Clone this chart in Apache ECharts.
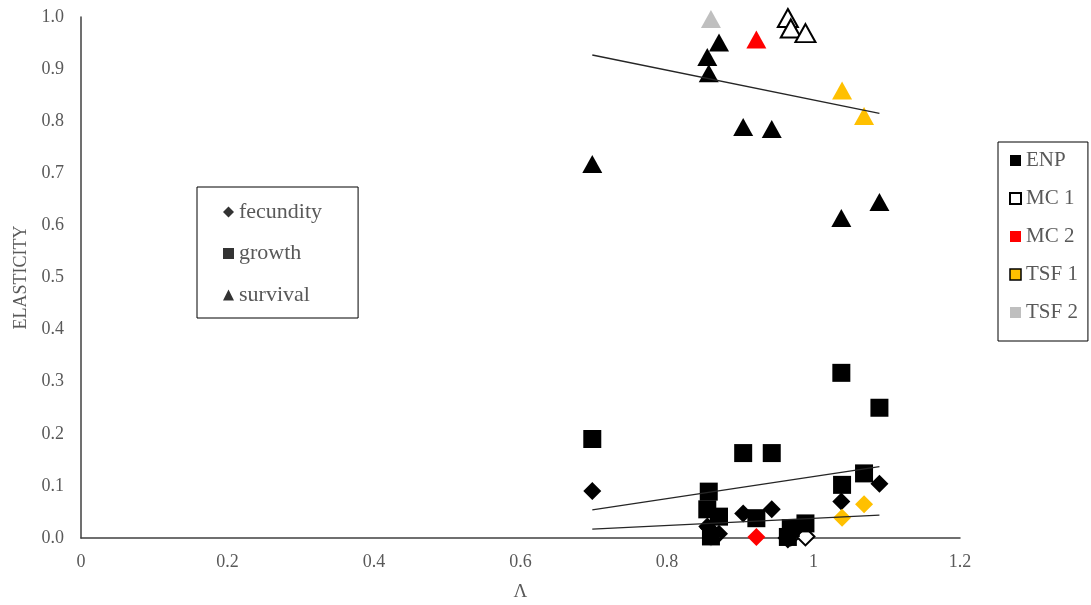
<!DOCTYPE html>
<html>
<head>
<meta charset="utf-8">
<script src="https://cdn.jsdelivr.net/npm/echarts@6/dist/echarts.min.js"></script>
<style>
  html, body { margin: 0; padding: 0; background: #fff; }
  #chart { width: 1091px; height: 605px; }
</style>
</head>
<body>
<div id="chart"></div>
<script>
// Population growth rate (lambda) and elasticities per population
const populations = ['ENP', 'MC 1', 'MC 2', 'TSF 1', 'TSF 2'];
const vitalRates = ['fecundity', 'growth', 'survival'];

const lambdaENP    = [0.698, 0.855, 0.857, 0.871, 0.904, 0.943, 1.038, 1.090];
const survivalENP  = [0.718, 0.923, 0.892, 0.951, 0.789, 0.785, 0.614, 0.645];
const growthENP    = [0.190, 0.055, 0.089, 0.041, 0.163, 0.163, 0.317, 0.250];
const fecundityENP = [0.090, 0.022, 0.019, 0.008, 0.047, 0.055, 0.070, 0.104];

const lambdaMC1    = [0.965, 0.969, 0.989];
const survivalMC1  = [0.998, 0.978, 0.969];
const growthMC1    = [0.002, 0.019, 0.028];
const fecundityMC1 = [0.000, 0.003, 0.003];

const lambdaMC2    = [0.922];
const survivalMC2  = [0.957];
const growthMC2    = [0.038];
const fecundityMC2 = [0.002];

const lambdaTSF1    = [1.039, 1.069];
const survivalTSF1  = [0.859, 0.810];
const growthTSF1    = [0.102, 0.124];
const fecundityTSF1 = [0.039, 0.065];

const lambdaTSF2    = [0.860];
const survivalTSF2  = [0.996];
const growthTSF2    = [0.003];
const fecundityTSF2 = [0.001];

// Linear trend lines over all populations (endpoints at lambda range)
const trendLambda    = [0.698, 1.090];
const trendSurvival  = [0.927, 0.815];
const trendGrowth    = [0.054, 0.137];
const trendFecundity = [0.017, 0.044];

const xTicks = [0, 0.2, 0.4, 0.6, 0.8, 1, 1.2];
const yTicks = [0, 0.1, 0.2, 0.3, 0.4, 0.5, 0.6, 0.7, 0.8, 0.9, 1.0];

const popData = {
  'ENP':   { lambda: lambdaENP,  fecundity: fecundityENP,  growth: growthENP,  survival: survivalENP },
  'MC 1':  { lambda: lambdaMC1,  fecundity: fecundityMC1,  growth: growthMC1,  survival: survivalMC1 },
  'MC 2':  { lambda: lambdaMC2,  fecundity: fecundityMC2,  growth: growthMC2,  survival: survivalMC2 },
  'TSF 1': { lambda: lambdaTSF1, fecundity: fecundityTSF1, growth: growthTSF1, survival: survivalTSF1 },
  'TSF 2': { lambda: lambdaTSF2, fecundity: fecundityTSF2, growth: growthTSF2, survival: survivalTSF2 }
};

// Marker styles
const popStyle = {
  'ENP':   { color: '#000000' },
  'MC 1':  { color: '#ffffff', borderColor: '#000000', borderWidth: 2 },
  'MC 2':  { color: '#ff0000' },
  'TSF 1': { color: '#ffc000' },
  'TSF 2': { color: '#bfbfbf' }
};
const legendPopStyle = {
  'ENP':   { color: '#000000' },
  'MC 1':  { color: '#ffffff', borderColor: '#000000', borderWidth: 2 },
  'MC 2':  { color: '#ff0000' },
  'TSF 1': { color: '#ffc000', borderColor: '#000000', borderWidth: 1.5 },
  'TSF 2': { color: '#bfbfbf' }
};
const rateSymbol = { fecundity: 'diamond', growth: 'rect', survival: 'triangle' };
const rateSize = { fecundity: [18, 18], growth: [18, 18], survival: [20, 18] };

const font = 'Liberation Serif, Times New Roman, serif';
const textGray = '#595959';

const series = [];

// Placeholder series that carry the vital-rate legend entries
vitalRates.forEach(function (r) {
  series.push({
    name: r, type: 'scatter', data: [],
    symbol: rateSymbol[r], itemStyle: { color: '#000' }
  });
});

// Elasticity points: squares (growth) are drawn black for every population
vitalRates.forEach(function (r) {
  populations.forEach(function (p) {
    const d = popData[p];
    const style = r === 'growth' ? { color: '#000000' } : popStyle[p];
    series.push({
      name: p,
      type: 'scatter',
      symbol: rateSymbol[r],
      symbolSize: rateSize[r],
      itemStyle: Object.assign({ opacity: 1 }, style),
      emphasis: { disabled: true },
      z: 2,
      data: d.lambda.map(function (x, i) { return [x, d[r][i]]; })
    });
  });
});

// Trend lines
[trendSurvival, trendGrowth, trendFecundity].forEach(function (t) {
  series.push({
    name: 'trend', type: 'line', symbol: 'none', silent: true, z: 3,
    lineStyle: { color: '#262626', width: 1.4 },
    data: trendLambda.map(function (x, i) { return [x, t[i]]; })
  });
});

const chart = echarts.init(document.getElementById('chart'), null, { renderer: 'canvas' });
chart.setOption({
  animation: false,
  backgroundColor: '#ffffff',
  grid: {
    left: 81, right: 131, top: 17, bottom: 67,
    containLabel: false, outerBoundsMode: 'none'
  },
  xAxis: {
    type: 'value', min: xTicks[0], max: xTicks[xTicks.length - 1], interval: 0.2,
    name: 'Λ', nameLocation: 'middle', nameGap: 45,
    nameTextStyle: { fontFamily: font, fontSize: 19, color: textGray },
    axisLine: { show: true, onZero: false, lineStyle: { color: '#404040', width: 1.5 } },
    axisTick: { show: false },
    splitLine: { show: false },
    axisLabel: {
      margin: 15, fontFamily: font, fontSize: 18, color: textGray,
      formatter: function (v) { return String(+v.toFixed(1)); }
    }
  },
  yAxis: {
    type: 'value', min: yTicks[0], max: yTicks[yTicks.length - 1], interval: 0.1,
    name: 'ELASTICITY', nameLocation: 'middle', nameGap: 46, nameRotate: 90,
    nameTextStyle: { fontFamily: font, fontSize: 18, color: textGray },
    axisLine: { show: true, lineStyle: { color: '#404040', width: 1.5 } },
    axisTick: { show: false },
    splitLine: { show: false },
    axisLabel: {
      margin: 17, fontFamily: font, fontSize: 18, color: textGray,
      formatter: function (v) { return v.toFixed(1); }
    }
  },
  legend: [
    {
      orient: 'vertical', left: 197, top: 187,
      padding: [14, 36, 12, 26], itemGap: 19.5, itemWidth: 11, itemHeight: 11,
      borderColor: '#000', borderWidth: 1, selectedMode: false,
      textStyle: { fontFamily: font, fontSize: 22, color: textGray, lineHeight: 21 },
      data: vitalRates.map(function (r) {
        return { name: r, icon: rateSymbol[r], itemStyle: { color: '#000' } };
      })
    },
    {
      orient: 'vertical', left: 998, top: 142,
      padding: [8, 10, 18, 11], itemGap: 17, itemWidth: 11, itemHeight: 11,
      borderColor: '#000', borderWidth: 1,
      textStyle: { fontFamily: font, fontSize: 21, color: textGray, lineHeight: 21 },
      data: populations.map(function (p) {
        return { name: p, icon: 'rect', itemStyle: legendPopStyle[p] };
      })
    }
  ],
  series: series
});
</script>
</body>
</html>
